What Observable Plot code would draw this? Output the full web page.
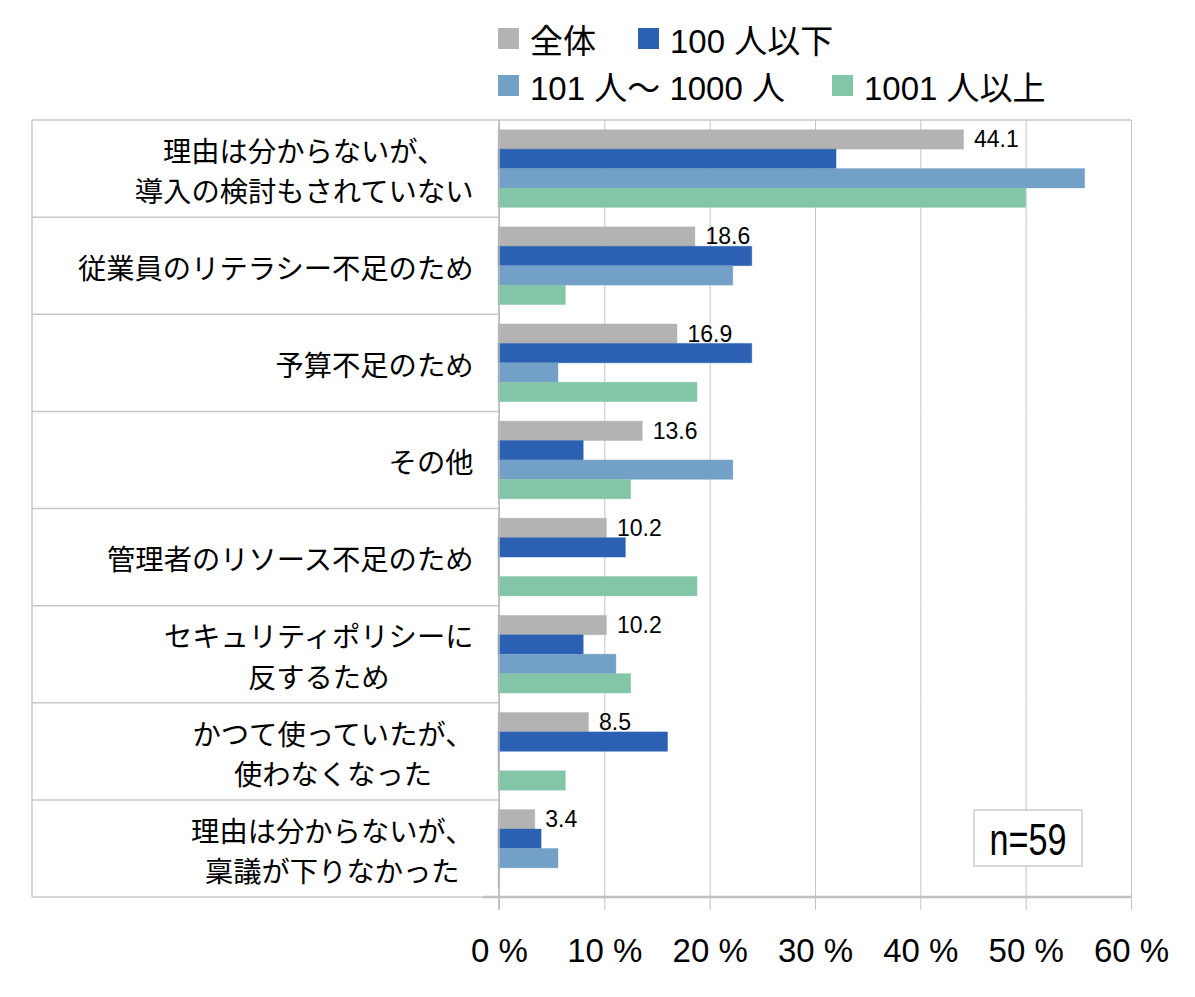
<!DOCTYPE html>
<html>
<head>
<meta charset="utf-8">
<script src="https://cdn.jsdelivr.net/npm/d3@7"></script>
<script src="https://cdn.jsdelivr.net/npm/@observablehq/plot@0.6"></script>
<style>
  body { margin: 0; background: #fff; }
  #wrap { position: relative; width: 1195px; height: 997px; font-family: 'Liberation Sans', 'Noto Sans CJK JP', sans-serif; }
  .item { position: absolute; display: flex; align-items: center; height: 40px; font-size: 33px; color: #000; white-space: nowrap; }
  .sw { width: 21px; height: 21px; margin-right: 11px; flex: none; }
  svg { position: absolute; left: 0; top: 0; }
</style>
</head>
<body>
<div id="wrap"></div>
<script>
// ---- data ----
const categories = [
  "理由は分からないが、\n導入の検討もされていない",
  "従業員のリテラシー不足のため",
  "予算不足のため",
  "その他",
  "管理者のリソース不足のため",
  "セキュリティポリシーに\n反するため",
  "かつて使っていたが、\n使わなくなった",
  "理由は分からないが、\n稟議が下りなかった"
];
const seriesNames = ["全体", "100 人以下", "101 人〜 1000 人", "1001 人以上"];
const seriesColors = ["#b3b3b3", "#2b60b2", "#72a0c6", "#83c5a7"];
const totalValues = [44.1, 18.6, 16.9, 13.6, 10.2, 10.2, 8.5, 3.4];
const smallValues = [32.0, 24.0, 24.0, 8.0, 12.0, 8.0, 16.0, 4.0];
const midValues   = [55.6, 22.2, 5.6, 22.2, 0, 11.1, 0, 5.6];
const largeValues = [50.0, 6.3, 18.8, 12.5, 18.8, 12.5, 6.3, 0];
const xTicks = [0, 10, 20, 30, 40, 50, 60];
const tickLabels = ["0 %", "10 %", "20 %", "30 %", "40 %", "50 %", "60 %"];
const sampleNote = "n=59";

const seriesValues = [totalValues, smallValues, midValues, largeValues];
const rows = [];
categories.forEach((cat, i) => {
  seriesNames.forEach((s, j) => rows.push({cat, series: s, value: seriesValues[j][i]}));
});

const FONT = "'Liberation Sans', 'Noto Sans CJK JP', sans-serif";
const wrap = document.getElementById("wrap");

// legend
const legendPos = [[498, 18.5], [638, 18.5], [498, 65.5], [832, 65.5]];
seriesNames.forEach((s, j) => {
  const it = document.createElement("div");
  it.className = "item";
  it.style.left = legendPos[j][0] + "px";
  it.style.top = legendPos[j][1] + "px";
  it.innerHTML = `<span class="sw" style="background:${seriesColors[j]}"></span><span>${s}</span>`;
  wrap.appendChild(it);
});

const plot = Plot.plot({
  width: 1195,
  height: 997,
  marginLeft: 499,
  marginRight: 64,
  marginTop: 120,
  marginBottom: 100,
  style: {fontFamily: FONT, background: "transparent", overflow: "visible"},
  x: {domain: [0, 60], axis: null},
  y: {domain: seriesNames, paddingInner: 0, paddingOuter: 0.5, round: false, axis: null},
  fy: {domain: categories, padding: 0, round: false, axis: null},
  color: {domain: seriesNames, range: seriesColors},
  marks: [
    Plot.gridX(xTicks, {stroke: "#c4c4c4", strokeOpacity: 1}),
    Plot.barX(rows, {fy: "cat", y: "series", x: "value", fill: "series", insetLeft: -1, stroke: "series", strokeOpacity: 0.35, strokeWidth: 1}),
    Plot.text(rows.filter(d => d.series === seriesNames[0]), {
      fy: "cat", y: "series", x: "value", text: d => d.value.toFixed(1),
      dx: 10, textAnchor: "start", fontSize: 23, fill: "#000"
    }),
    Plot.axisFy({anchor: "left", tickSize: 0, tickPadding: 26, fontSize: 28.3, lineHeight: 1.42, label: null, fill: "#000"}),
    Plot.axisX({ticks: xTicks, tickFormat: d => tickLabels[xTicks.indexOf(d)], tickSize: 13, tickPadding: 28, fontSize: 33, stroke: "#c4c4c4", fill: "#000", label: null})
  ]
});
wrap.appendChild(plot);

// ---- table structure drawn from the library's scales ----
const fyScale = plot.scale("fy");
const xScale = plot.scale("x");
const band = d3.scaleBand().domain(fyScale.domain).range(fyScale.range)
  .paddingInner(fyScale.paddingInner ?? 0).paddingOuter(fyScale.paddingOuter ?? 0).align(fyScale.align ?? 0.5);
const xZero = xScale.apply(0), xEnd = xScale.apply(60);
const yTop = band(categories[0]);
const yBottom = band(categories[categories.length - 1]) + band.bandwidth();
const svgSel = d3.select(plot);
const gBack = svgSel.insert("g", "g").attr("fill", "none");
const edges = categories.map(c => band(c)).concat([yBottom]);
edges.forEach(y => {
  gBack.append("line").attr("x1", 32).attr("x2", xZero).attr("y1", y).attr("y2", y).attr("stroke", "#c8c8c8").attr("stroke-width", 1.5);
});
gBack.append("line").attr("x1", 32).attr("x2", 32).attr("y1", yTop).attr("y2", yBottom).attr("stroke", "#c8c8c8").attr("stroke-width", 1.5);
gBack.append("line").attr("x1", xZero).attr("x2", xEnd).attr("y1", yTop).attr("y2", yTop).attr("stroke", "#c8c8c8").attr("stroke-width", 1.5);
const gFront = svgSel.append("g");
gFront.append("line").attr("x1", xZero).attr("x2", xZero).attr("y1", yTop).attr("y2", yBottom + 13).attr("stroke", "#b8b8b8").attr("stroke-width", 1.5);
gFront.append("line").attr("x1", xZero - 16).attr("x2", xEnd).attr("y1", yBottom).attr("y2", yBottom).attr("stroke", "#c0c0c0").attr("stroke-width", 2.5);

// n note
const note = gFront.append("g");
note.append("rect").attr("x", 974).attr("y", 810).attr("width", 108).attr("height", 56)
  .attr("fill", "#fff").attr("stroke", "#c0c0c0").attr("stroke-width", 1.2);
note.append("text").attr("x", 1028).attr("y", 855).attr("text-anchor", "middle")
  .attr("font-size", 44).attr("textLength", 77).attr("lengthAdjust", "spacingAndGlyphs")
  .attr("fill", "#000").text(sampleNote);

// center multi-line category labels within their right-aligned block
svgSel.selectAll('g[aria-label="fy-axis tick label"] text').each(function() {
  const spans = Array.from(this.querySelectorAll("tspan"));
  if (spans.length < 2) return;
  const w = spans.map(s => s.getComputedTextLength());
  const m = Math.max(...w);
  spans.forEach((s, i) => s.setAttribute("x", -(m - w[i]) / 2));
});
</script>
</body>
</html>
